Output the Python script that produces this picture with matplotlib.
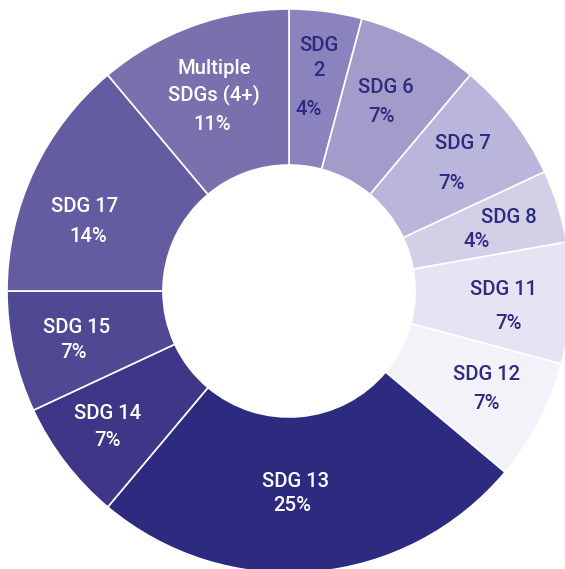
import numpy as np
import matplotlib
matplotlib.use("Agg")
import matplotlib.pyplot as plt

# ---- data ----
categories = ["SDG 2", "SDG 6", "SDG 7", "SDG 8", "SDG 11", "SDG 12",
              "SDG 13", "SDG 14", "SDG 15", "SDG 17", "Multiple SDGs (4+)"]
counts = [3, 5, 5, 3, 5, 5, 18, 5, 5, 10, 8]
display_names = ["SDG\n2", "SDG 6", "SDG 7", "SDG 8", "SDG 11", "SDG 12",
                 "SDG 13", "SDG 14", "SDG 15", "SDG 17", "Multiple\nSDGs (4+)"]

# ---- style / layout (pixels) ----
colors = ["#8b83bd", "#a39ccb", "#bab5da", "#d2cfe7", "#e6e4f3", "#f3f2f9",
          "#2d2b80", "#3e3788", "#4f4893", "#635ca1", "#7a70ae"]
text_colors = ["#2d2b80"] * 6 + ["white"] * 5
label_gap = [52, 29, 40, 24, 34, 29, 23.5, 27, 25, 30, 42.5]     # name centre -> pct centre
label_split = [10, 5, 11, 32, -5, 0, 4, 0, 3, -4, 2]              # name x - pct x
label_shift = [(-3, 5), (-5, 1), (-3, 2.5), (-2, 2), (1, 4.6), (6, -3),
               (-14, -14), (-10, 3), (-3.6, 0.7), (-7, 20), (-2, 13)]

W, H, DPI = 565, 569, 100
cx_px, cy_px, R_px, r_px = 289, 291, 282, 126
FS = 14.6                      # points
fs_px = FS * DPI / 72
cap_px = 0.711 * fs_px
line_pitch = 25.5

plt.rcParams['font.family'] = ['Roboto', 'DejaVu Sans']
fig = plt.figure(figsize=(W / DPI, H / DPI), dpi=DPI)
ax = fig.add_axes([0, 0, 1, 1])

wedges, _ = ax.pie(counts, colors=colors, startangle=90, counterclock=False,
                   radius=1.0, center=(0, 0),
                   wedgeprops=dict(width=1 - r_px / R_px, edgecolor="white",
                                   linewidth=1.2))
ax.set_xlim(-cx_px / R_px, (W - cx_px) / R_px)
ax.set_ylim(-(H - cy_px) / R_px, cy_px / R_px)
ax.set_aspect('auto')
ax.axis('off')


def to_data(xp, yp):
    return (xp - cx_px) / R_px, (cy_px - yp) / R_px


def put_line(xp, yc_px, s, color):
    x, y = to_data(xp, yc_px + cap_px / 2)
    ax.text(x, y, s, ha="center", va="baseline", color=color,
            fontsize=FS, fontweight=500)


total = sum(counts)
for w, name, c, tc, gap, split, (sx, sy) in zip(
        wedges, display_names, counts, text_colors, label_gap, label_split, label_shift):
    mid = np.deg2rad((w.theta1 + w.theta2) / 2)
    bx = cx_px + 0.765 * R_px * np.cos(mid) + sx
    by = cy_px - 0.765 * R_px * np.sin(mid) + sy
    pct = f"{round(100 * c / total)}%"
    lines = name.split("\n")
    name_c = by - gap / 2
    first = name_c - (len(lines) - 1) * line_pitch / 2
    for i, ln in enumerate(lines):
        put_line(bx + split / 2, first + i * line_pitch, ln, tc)
    put_line(bx - split / 2, by + gap / 2, pct, tc)

fig.savefig("out.png", dpi=DPI)
